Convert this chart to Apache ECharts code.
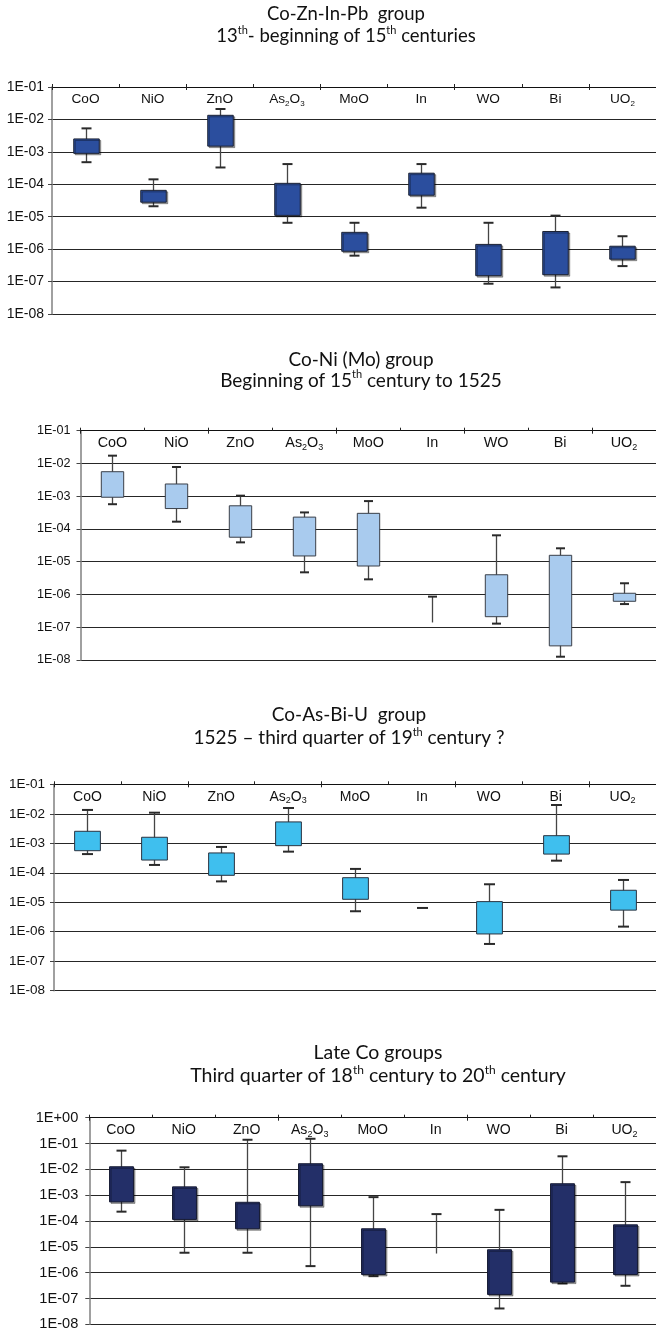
<!DOCTYPE html>
<html><head><meta charset="utf-8">
<script src="https://cdn.jsdelivr.net/npm/echarts@6/dist/echarts.min.js"></script>
<style>html,body{margin:0;padding:0;background:#fff}#c{width:656px;height:1333px}</style>
</head><body><div id="c"></div>
<script>
// ---------- DATA ----------
const categoryLabels = ['CoO','NiO','ZnO','As{sub|2}O{sub|3}','MoO','In','WO','Bi','UO{sub|2}'];

const titles1 = ['Co-Zn-In-Pb  group', '13{sup|th}- beginning of 15{sup|th} centuries'];
const titles2 = ['Co-Ni (Mo) group', 'Beginning of 15{sup|th} century to 1525'];
const titles3 = ['Co-As-Bi-U  group', '1525 \u2013 third quarter of 19{sup|th} century ?'];
const titles4 = ['Late Co groups', 'Third quarter of 18{sup|th} century to 20{sup|th} century'];

// Panel 1: Co-Zn-In-Pb group
const p1High = [5.3e-3, 1.42e-4, 2.1e-2, 4.2e-4, 6.5e-6, 4.2e-4, 6.5e-6, 1.08e-5, 2.5e-6];
const p1Q3   = [2.5e-3, 6.5e-5, 1.34e-2, 1.07e-4, 3.3e-6, 2.2e-4, 1.4e-6, 3.5e-6, 1.23e-6];
const p1Q1   = [9.0e-4, 2.8e-5, 1.5e-3, 1.1e-5, 8.6e-7, 4.6e-5, 1.52e-7, 1.63e-7, 4.9e-7];
const p1Low  = [4.8e-4, 2.1e-5, 3.3e-4, 6.5e-6, 6.3e-7, 1.9e-5, 8.6e-8, 6.6e-8, 3.0e-7];

// Panel 2: Co-Ni (Mo) group
const p2High = [1.73e-2, 7.8e-3, 1.04e-3, 3.2e-4, 7.1e-4, 8.6e-7, 6.4e-5, 2.57e-5, 2.2e-6];
const p2Q3   = [5.6e-3, 2.36e-3, 5.1e-4, 2.3e-4, 3.0e-4, null, 4.0e-6, 1.57e-5, 1.09e-6];
const p2Q1   = [9.3e-4, 4.2e-4, 5.6e-5, 1.5e-5, 7.4e-6, null, 2.1e-7, 2.7e-8, 6.2e-7];
const p2Low  = [5.7e-4, 1.67e-4, 3.9e-5, 4.75e-6, 2.9e-6, 1.4e-7, 1.29e-7, 1.26e-8, 5.1e-7];

// Panel 3: Co-As-Bi-U group
const p3High = [1.35e-2, 1.09e-2, 7.5e-4, 1.57e-2, 1.35e-4, 6.4e-6, 4.07e-5, 1.99e-2, 5.7e-5];
const p3Q3   = [2.55e-3, 1.6e-3, 4.7e-4, 5.3e-3, 6.8e-5, null, 1.05e-5, 1.81e-3, 2.55e-5];
const p3Q1   = [5.6e-4, 2.7e-4, 8.2e-5, 8.3e-4, 1.26e-5, null, 8.4e-7, 4.3e-4, 5.4e-6];
const p3Low  = [4.3e-4, 1.84e-4, 5.1e-5, 5.2e-4, 4.95e-6, 6.4e-6, 3.85e-7, 2.57e-4, 1.49e-6];

// Panel 4: Late Co groups
const p4High = [5.3e-2, 1.2e-2, 0.14, 0.153, 8.4e-4, 1.85e-4, 2.7e-4, 3.2e-2, 3.2e-3];
const p4Q3   = [1.26e-2, 2.1e-3, 5.3e-4, 1.65e-2, 5.0e-5, null, 7.7e-6, 2.77e-3, 7.1e-5];
const p4Q1   = [5.5e-4, 1.15e-4, 5.0e-5, 3.9e-4, 8.5e-7, null, 1.43e-7, 4.3e-7, 8.5e-7];
const p4Low  = [2.3e-4, 5.9e-6, 5.9e-6, 1.79e-6, 7.3e-7, 5.5e-6, 4.1e-8, 3.8e-7, 3.1e-7];

const yMin = [1e-8, 1e-8, 1e-8, 1e-8];
const yMax = [1e-1, 1e-1, 1e-1, 1e0];

// ---------- LAYOUT / STYLE ----------
const panels = [
  {high:p1High,q3:p1Q3,q1:p1Q1,low:p1Low,titles:titles1,
   grid:{left:52,right:-6,top:87,height:227}, fill:'#2B4E9E', border:'#1c2233', shadow:true,
   yFont:14, yMargin:8, xFont:13.7, box:0.38, cap:10,
   titleX:[346,346], titleY:[3,25], titleFont:18.5},
  {high:p2High,q3:p2Q3,q1:p2Q1,low:p2Low,titles:titles2,
   grid:{left:80.5,right:0,top:430.7,height:229.3}, fill:'#A9CBEE', border:'#3a3f48', shadow:false,
   yFont:12.6, yMargin:10, xFont:14.4, box:0.35, cap:9,
   titleX:[361,361], titleY:[348.5,369], titleFont:19},
  {high:p3High,q3:p3Q3,q1:p3Q1,low:p3Low,titles:titles3,
   grid:{left:54,right:-2,top:784.3,height:206.4}, fill:'#3FBFEE', border:'#2a3340', shadow:false,
   yFont:13.5, yMargin:9, xFont:14, box:0.385, cap:11,
   titleX:[349,349], titleY:[703.5,726.5], titleFont:19},
  {high:p4High,q3:p4Q3,q1:p4Q1,low:p4Low,titles:titles4,
   grid:{left:89.3,right:0,top:1117.7,height:206.6}, fill:'#232F68', border:'#161b33', shadow:true,
   yFont:14.6, yMargin:11, xFont:14.1, box:0.38, cap:10,
   titleX:[378,378], titleY:[1041,1064], titleFont:19.5}
];

function fmtExp(v) {
  const e = Math.round(Math.log10(v));
  const a = Math.abs(e);
  return '1E' + (e < 0 ? '-' : '+') + (a < 10 ? '0' + a : '' + a);
}

function makeRender(p) {
  return function (params, api) {
    const i = api.value(0);
    const hi = api.value(1), q3 = api.value(2), q1 = api.value(3), lo = api.value(4);
    const band = api.size([1, 1])[0];
    const bw = band * p.box;
    const pHi = api.coord([i, hi]);
    const pLo = api.coord([i, lo]);
    const x = Math.round(pHi[0]) + 0.5;
    const ch = [];
    ch.push({type:'line', shape:{x1:x,y1:pHi[1],x2:x,y2:pLo[1]}, style:{stroke:'#454545', lineWidth:1.3}});
    ch.push({type:'line', shape:{x1:x-p.cap/2,y1:pHi[1],x2:x+p.cap/2,y2:pHi[1]}, style:{stroke:'#2a2a2a', lineWidth:2}});
    const hasBox = q3 != null && q1 != null && !isNaN(q3) && !isNaN(q1);
    if (hasBox) {
      ch.push({type:'line', shape:{x1:x-p.cap/2,y1:pLo[1],x2:x+p.cap/2,y2:pLo[1]}, style:{stroke:'#2a2a2a', lineWidth:2}});
      const a = api.coord([i, q3]), b = api.coord([i, q1]);
      ch.push({type:'rect', shape:{x:x-bw/2, y:a[1], width:bw, height:b[1]-a[1]},
        style:{fill:p.fill, stroke:p.border, lineWidth:1,
          shadowColor: p.shadow ? 'rgba(0,0,0,0.35)' : 'transparent', shadowBlur:0,
          shadowOffsetX: p.shadow ? 1.5 : 0, shadowOffsetY: p.shadow ? 1.5 : 0}});
    }
    return {type:'group', children:ch};
  };
}

const option = {
  animation:false,
  backgroundColor:'#fff',
  title:[], grid:[], xAxis:[], yAxis:[], series:[]
};

panels.forEach((p, k) => {
  p.titles.forEach((t, j) => {
    option.title.push({
      text:t, left:p.titleX[j], top:p.titleY[j], textAlign:'center', padding:0,
      textStyle:{fontFamily:'Lato', fontSize:p.titleFont, fontWeight:'normal', color:'#111', lineHeight:23,
        rich:{sup:{fontFamily:'Lato', fontSize:Math.round(p.titleFont*0.6), color:'#111', verticalAlign:'top', lineHeight:14}}}
    });
  });
  option.grid.push(Object.assign({containLabel:false}, p.grid));
  option.xAxis.push({
    type:'category', gridIndex:k, data:categoryLabels, position:'top', boundaryGap:true,
    axisLine:{show:true, lineStyle:{color:'#111', width:1.2}},
    axisTick:{show:true, length:3, lineStyle:{color:'#222', width:1}},
    axisLabel:{show:true, inside:true, interval:0, margin:4, color:'#111', fontFamily:'Liberation Sans',
      fontSize:p.xFont, lineHeight:17,
      rich:{sub:{fontFamily:'Liberation Sans', fontSize:Math.round(p.xFont*0.62), color:'#111', verticalAlign:'bottom', lineHeight:9}}},
    splitLine:{show:false}
  });
  // companion axis: tick marks hanging below the top line
  option.xAxis.push({
    type:'category', gridIndex:k, data:categoryLabels, position:'bottom', offset:-p.grid.height, boundaryGap:true,
    axisLine:{show:false}, axisLabel:{show:false},
    axisTick:{show:true, length:3, lineStyle:{color:'#222', width:1}}, splitLine:{show:false}
  });
  option.yAxis.push({
    type:'log', logBase:10, gridIndex:k, min:yMin[k], max:yMax[k],
    splitNumber: Math.round(Math.log10(yMax[k]) - Math.log10(yMin[k])),
    axisLine:{show:true, lineStyle:{color:'#808080', width:1.5}},
    axisTick:{show:true, length:4, lineStyle:{color:'#444', width:1}},
    axisLabel:{show:true, formatter:fmtExp, fontFamily:'Liberation Sans', fontSize:p.yFont, color:'#111', margin:p.yMargin},
    splitLine:{show:true, lineStyle:{color:'#262626', width:1.2}},
    minorTick:{show:false}, minorSplitLine:{show:false}
  });
  const data = p.high.map((h, i) => [i, h, p.q3[i], p.q1[i], p.low[i]]);
  option.series.push({
    type:'custom', xAxisIndex:2*k, yAxisIndex:k,
    renderItem: makeRender(p),
    encode:{x:0, y:[1,2,3,4]},
    data:data, z:3, clip:false
  });
});

const chart = echarts.init(document.getElementById('c'), null, {renderer:'canvas'});
chart.setOption(option);
</script>
</body></html>
